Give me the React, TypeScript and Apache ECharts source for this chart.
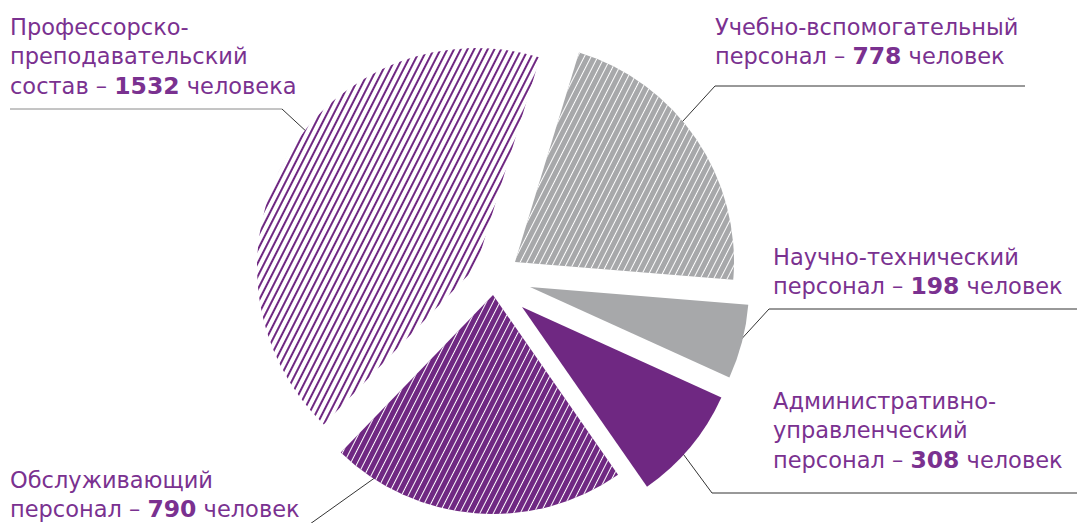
import React, { useEffect, useRef } from "react";
import * as echarts from "echarts";

// ---- data (clockwise order starting at the top) ----
const NAME_LINES: string[][] = [
  ["Учебно-вспомогательный"],
  ["Научно-технический"],
  ["Административно-", "управленческий"],
  ["Обслуживающий"],
  ["Профессорско-", "преподавательский"],
];
const PREFIXES = ["персонал", "персонал", "персонал", "персонал", "состав"];
const VALUES = [778, 198, 308, 790, 1532];
const UNITS = ["человек", "человек", "человек", "человек", "человека"];

// ---- styling / layout ----
const PURPLE = "#6f2882";
const GREY = "#a7a8aa";
const TEXT = "#7a3190";
const FILLS = [GREY, GREY, PURPLE, PURPLE, "#ffffff"];
const DECALS: (null | { color: string; dash: number[] })[] = [
  { color: "#ffffff", dash: [1, 5] },
  null,
  null,
  { color: "#ffffff", dash: [1, 5] },
  { color: PURPLE, dash: [2, 4] },
];
const CENTERS = [
  [515, 262],
  [530, 287],
  [522, 307],
  [493, 295],
  [476, 267],
];
const RADIUS = 219;
const START_ANGLE = 73;
const LABEL_POS = [
  [715, 12],
  [773, 242],
  [773, 386],
  [10, 465],
  [10, 12],
];
const LEADERS: { pts: number[][]; color: string }[] = [
  { pts: [[1025, 86], [715, 86], [672, 133]], color: "#333" },
  { pts: [[1077, 309], [769, 309], [726, 356]], color: "#333" },
  { pts: [[1077, 493], [712, 493], [678, 447]], color: "#333" },
  { pts: [[397, 462], [310, 524]], color: "#333" },
  { pts: [[10, 109], [282, 109]], color: "#8a8a8a" },
  { pts: [[282, 109], [335, 158]], color: "#333" },
];

export default function App() {
  const ref = useRef<HTMLDivElement>(null);
  useEffect(() => {
    document.body.style.margin = "0";
    const chart = echarts.init(ref.current!, undefined, { renderer: "svg" });
    const series = VALUES.map((_, i) => ({
      type: "pie",
      silent: true,
      center: CENTERS[i],
      radius: RADIUS,
      startAngle: START_ANGLE,
      clockwise: true,
      label: { show: false },
      labelLine: { show: false },
      emphasis: { disabled: true },
      data: VALUES.map((v, j) => {
        const dec = DECALS[j];
        return {
          value: v,
          name: NAME_LINES[j].join(" "),
          itemStyle:
            j === i
              ? {
                  color: FILLS[j],
                  borderWidth: 0,
                  decal: dec
                    ? {
                        symbol: "rect",
                        symbolSize: 1,
                        color: dec.color,
                        dashArrayX: [1, 0],
                        dashArrayY: dec.dash,
                        rotation: -1.1,
                      }
                    : "none",
                }
              : { color: "rgba(0,0,0,0)", borderWidth: 0, decal: "none" },
        };
      }),
    }));
    const texts = VALUES.map((v, i) => ({
      type: "text",
      x: LABEL_POS[i][0],
      y: LABEL_POS[i][1],
      silent: true,
      style: {
        text: [...NAME_LINES[i], `${PREFIXES[i]} – {b|${v}} ${UNITS[i]}`].join("\n"),
        fontFamily: "DejaVu Sans",
        fontSize: 22.5,
        lineHeight: 29.5,
        fill: TEXT,
        rich: {
          b: {
            fontFamily: "DejaVu Sans",
            fontSize: 23.5,
            fontWeight: "bold",
            lineHeight: 29.5,
            fill: TEXT,
          },
        },
      },
    }));
    const lines = LEADERS.map((l) => ({
      type: "polyline",
      silent: true,
      shape: { points: l.pts },
      style: { stroke: l.color, lineWidth: 1, fill: null },
    }));
    chart.setOption({
      animation: false,
      backgroundColor: "#ffffff",
      series,
      graphic: { elements: [...lines, ...texts] },
    });
    return () => chart.dispose();
  }, []);
  return <div ref={ref} style={{ width: 1077, height: 523 }} />;
}
